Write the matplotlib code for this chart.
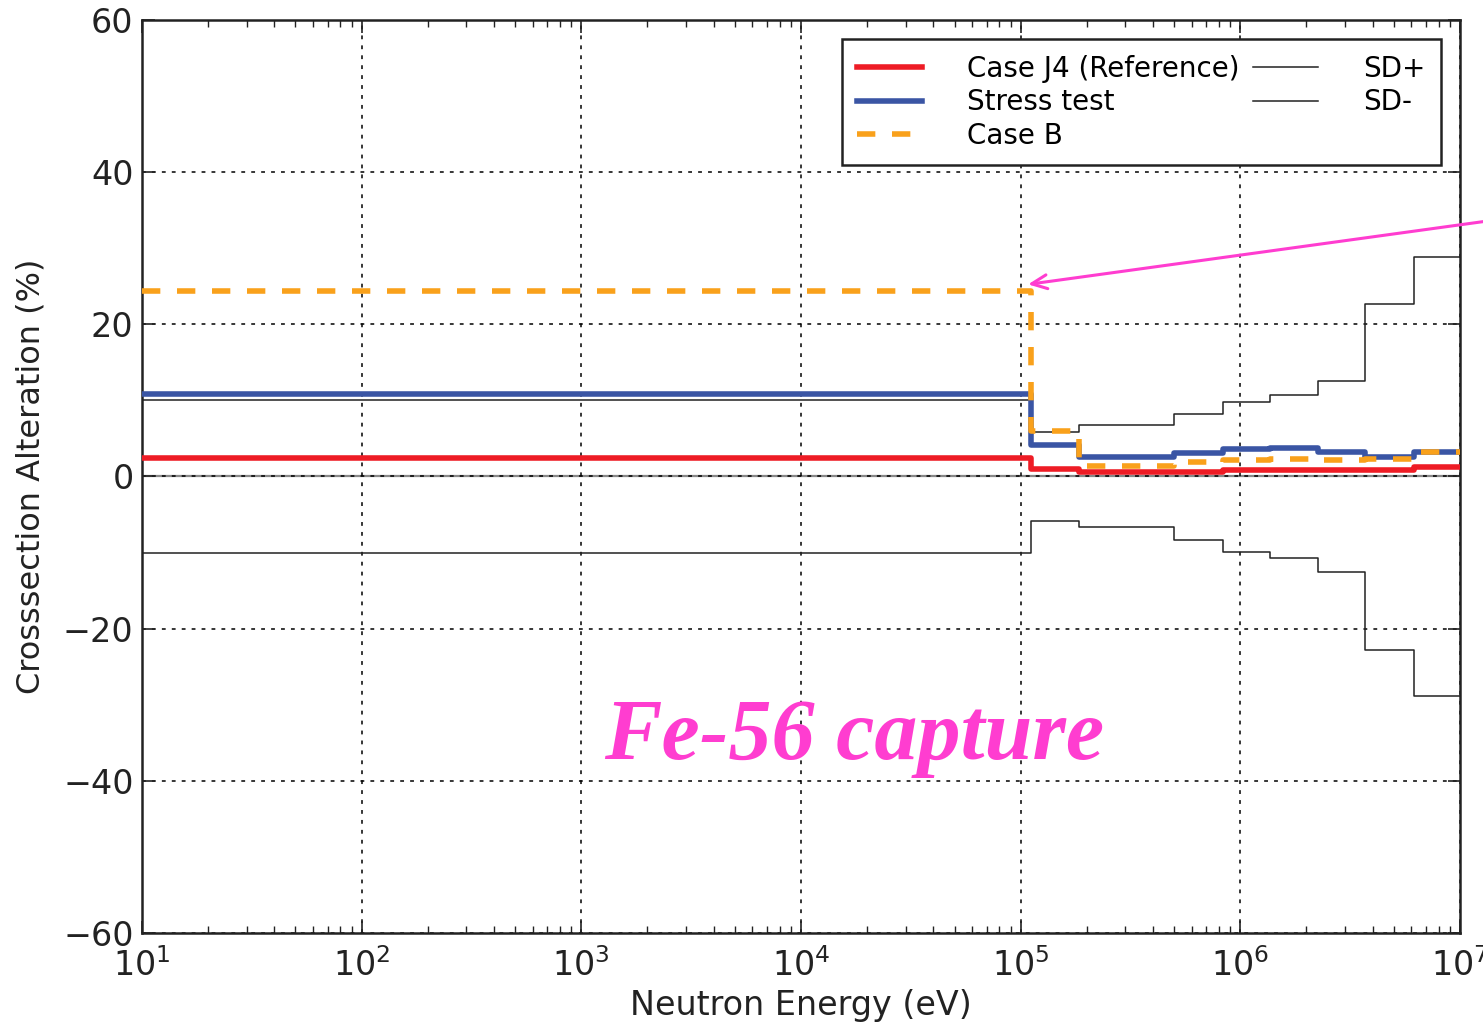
import numpy as np
import matplotlib
matplotlib.use("Agg")
import matplotlib.pyplot as plt
from matplotlib.ticker import LogLocator

# --- data ---
edges = [1e1, 1.12e5, 1.85e5, 5e5, 8.3e5, 1.37e6, 2.25e6, 3.7e6, 6.2e6, 1e7]
case_j4 = [2.4, 0.95, 0.55, 0.55, 0.85, 0.85, 0.85, 0.85, 1.3]
stress_test = [10.9, 4.1, 2.5, 3.1, 3.55, 3.75, 3.2, 2.5, 3.2]
case_b = [24.4, 6.0, 1.4, 1.95, 2.2, 2.3, 2.2, 2.3, 3.2]
sd_plus = [10.0, 5.8, 6.7, 8.2, 9.8, 10.7, 12.6, 22.7, 28.8]
sd_minus = [-10.0, -5.9, -6.7, -8.3, -9.9, -10.75, -12.6, -22.8, -28.85]

y_ticks = [-60, -40, -20, 0, 20, 40, 60]


def step_vals(v):
    return list(v) + [v[-1]]


fig = plt.figure(figsize=(14.83, 10.24), dpi=100)
ax = fig.add_axes([0.0957, 0.0889, 0.8888, 0.8916])

ax.axhline(0, color="#888888", lw=1.6, zorder=1)

ax.step(edges, step_vals(case_j4), where="post", color="#ee1c25", lw=4,
        label="Case J4 (Reference)", zorder=4)
ax.step(edges, step_vals(stress_test), where="post", color="#3a55a4", lw=4,
        label="Stress test", zorder=3)
ax.step(edges, step_vals(case_b), where="post", color="#f9a11b", lw=4,
        dashes=(3.3, 3), label="Case B", zorder=5)
ax.step(edges, step_vals(sd_plus), where="post", color="#222222", lw=1.1,
        label="SD+", zorder=2)
ax.step(edges, step_vals(sd_minus), where="post", color="#222222", lw=1.1,
        label="SD-", zorder=2)

ax.set_xscale("log")
ax.set_xlim(1e1, 1e7)
ax.set_ylim(-60, 60)
ax.set_yticks(y_ticks)
ax.xaxis.set_major_locator(LogLocator(base=10, numticks=10))
ax.xaxis.set_minor_locator(LogLocator(base=10, subs=np.arange(2, 10), numticks=100))

ax.grid(True, which="major", color="black", ls=(0, (2.5, 4)), lw=1.1)
ax.tick_params(which="both", direction="in", top=True, right=True,
               labelsize=24, colors="#222222")
ax.tick_params(axis="x", pad=11)
ax.tick_params(axis="y", pad=6)
ax.tick_params(which="major", length=9, width=1.2)
ax.tick_params(which="minor", length=5, width=1)
for s in ax.spines.values():
    s.set_linewidth(1.8)
    s.set_color("#222222")

ax.set_xlabel("Neutron Energy (eV)", fontsize=24, color="#222222", labelpad=4)
ax.set_ylabel("Crosssection Alteration (%)", fontsize=23, color="#222222", labelpad=12)

leg = ax.legend(ncol=2, loc="upper right", fontsize=20, frameon=True,
                fancybox=False, handlelength=2.35, handletextpad=1.6,
                columnspacing=0.5, labelspacing=0.2, borderaxespad=0.7,
                borderpad=0.55)
leg.get_frame().set_edgecolor("#222222")
leg.get_frame().set_linewidth(1.8)
leg.get_frame().set_alpha(1)

ax.annotate("", xy=(1.05e5, 25.2), xytext=(1.52e7, 33.8),
            arrowprops=dict(arrowstyle="->, head_length=1.1, head_width=0.5",
                            color="#ff3dd0", lw=2.2),
            annotation_clip=False, zorder=6)

ax.text(1.75e4, -34.5, "Fe-56 capture", fontsize=62, color="#ff3dd0",
        family="Liberation Serif", weight="bold", style="italic",
        ha="center", va="center", zorder=6)

fig.savefig("out.png", dpi=100)
